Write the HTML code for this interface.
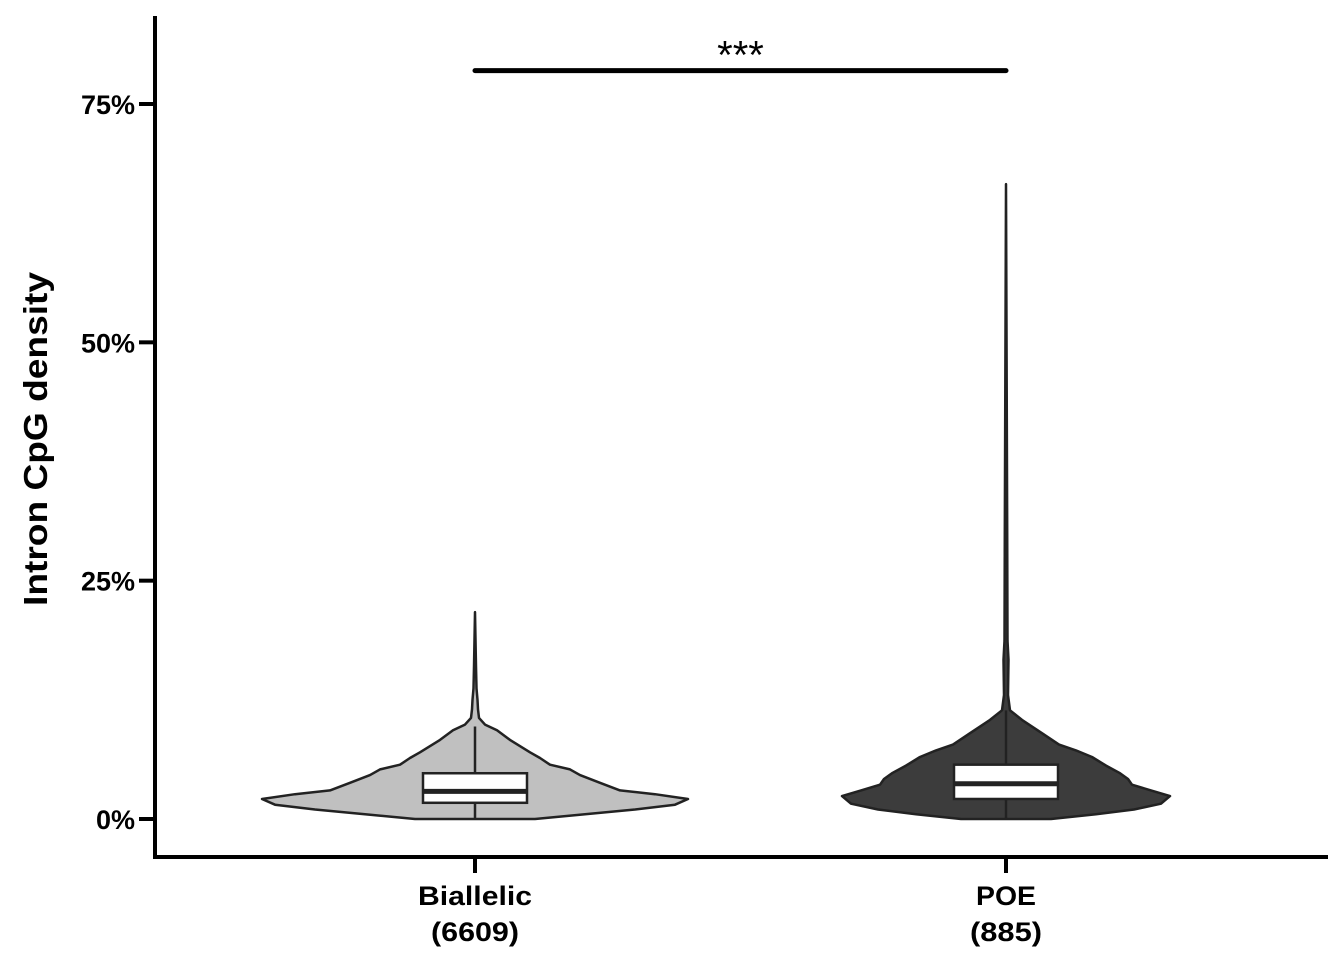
<!DOCTYPE html>
<html><head><meta charset="utf-8">
<style>
html,body{margin:0;padding:0;background:#fff;}
svg{display:block;font-family:"Liberation Sans",Arial,sans-serif;font-weight:bold;}
</style></head>
<body>
<svg id="chart" width="1344" height="960" viewBox="0 0 1344 960">
<g id="axes"></g>
<g id="marks"></g>
</svg>
<script>
const categories = ["Biallelic", "POE"];
const counts = ["(6609)", "(885)"];
const yTicks = [0, 25, 50, 75];
const yTickLabels = ["0%", "25%", "50%", "75%"];
const fills = ["#c0c0c0", "#3c3c3c"];
// violin profiles: y values (%) and half-widths
const violinY_biallelic = [0, 0.5, 1.0, 1.5, 2.1, 2.6, 3.0, 3.8, 4.6, 5.2, 5.7, 6.4, 7.0, 8.3, 9.3, 9.9, 10.6, 11.5, 12.5, 13.7, 16, 21.7];
const violinW_biallelic = [60, 110, 160, 200, 213, 180, 145, 125, 105, 95, 75, 65, 55, 35, 22, 10, 4, 3, 2.5, 1.5, 1, 0];
const violinY_poe = [0, 0.5, 1.0, 1.6, 2.4, 3.0, 3.6, 4.2, 4.8, 5.6, 6.5, 7.2, 7.8, 9.0, 10.4, 11.4, 13, 16.7, 18.7, 30, 66.6];
const violinW_poe = [45, 90, 128, 155, 164, 145, 126, 122, 114, 100, 86, 70, 53, 36, 16, 4, 2, 2.5, 1.5, 1.2, 0];
// box stats (%): whisker low, q1, median, q3, whisker high
const boxBiallelic = [0, 1.7, 2.9, 4.8, 9.7];
const boxPoe = [0, 2.1, 3.7, 5.7, 11.4];
const sigLabel = "***";
const sigLevel = 78.5;

const NS = "http://www.w3.org/2000/svg";
const y0 = 819, pxPer = (819 - 104) / 75;
const yScale = v => y0 - v * pxPer;
const xCenters = [475, 1006];
const xScale = i => xCenters[i];
const catLens = [114, 60];
const cntLens = [88, 72];

function mk(tag, attrs, parent) {
  const e = document.createElementNS(NS, tag);
  for (const k in attrs) e.setAttribute(k, attrs[k]);
  parent.appendChild(e);
  return e;
}
const axes = document.getElementById("axes");
const marks = document.getElementById("marks");

const yAxis = mk("line", {x1:155, y1:16, x2:155, y2:859, stroke:"#000", "stroke-width":4}, axes);


const xAxis = mk("line", {x1:153, y1:857, x2:1328, y2:857, stroke:"#000", "stroke-width":4}, axes);



yTicks.forEach((t, i) => {
  const y = yScale(t);
  const tk = mk("line", {x1:139, y1:y, x2:155, y2:y, stroke:"#000", "stroke-width":4}, axes);
  
  
  const lb = mk("text", {x:135, y:y + 10, "text-anchor":"end", "font-size":27, fill:"#000"}, axes);
  lb.textContent = yTickLabels[i];
  
  
});

categories.forEach((c, i) => {
  const x = xScale(i);
  const tk = mk("line", {x1:x, y1:857, x2:x, y2:873, stroke:"#000", "stroke-width":4}, axes);
  
  
  const lb = mk("text", {x:x, y:905, "text-anchor":"middle", "font-size":27, textLength:catLens[i], lengthAdjust:"spacingAndGlyphs", fill:"#000"}, axes);
  lb.textContent = c;
  
  
  const lb2 = mk("text", {x:x, y:941, "text-anchor":"middle", "font-size":27, textLength:cntLens[i], lengthAdjust:"spacingAndGlyphs", fill:"#000"}, axes);
  lb2.textContent = counts[i];
  
  
});

const yTitle = mk("text", {x:0, y:0, transform:"translate(47,439) rotate(-90)", "text-anchor":"middle", "font-size":33, textLength:334, lengthAdjust:"spacingAndGlyphs", fill:"#000"}, axes);
yTitle.textContent = "Intron CpG density";



function violin(i, ys, ws, box, fill) {
  const cx = xScale(i);
  const right = ys.map((v, k) => [cx + ws[k], yScale(v)]);
  const left = ys.map((v, k) => [cx - ws[k], yScale(v)]).reverse();
  const pts = right.concat(left);
  const d = "M" + pts.map(p => p[0].toFixed(1) + "," + p[1].toFixed(1)).join(" L") + "Z";
  const v = mk("path", {d:d, fill:fill, stroke:"#222", "stroke-width":2.5, "stroke-linejoin":"round"}, marks);
  
  
  const wh = mk("line", {x1:cx, y1:yScale(box[0]), x2:cx, y2:yScale(box[4]), stroke:"#222", "stroke-width":2.5}, marks);
  
  
  const bw = 52;
  const r = mk("rect", {x:cx - bw, y:yScale(box[3]), width:bw * 2, height:yScale(box[1]) - yScale(box[3]), fill:"#fff", stroke:"#222", "stroke-width":2.5}, marks);
  
  
  const m = mk("line", {x1:cx - bw, y1:yScale(box[2]), x2:cx + bw, y2:yScale(box[2]), stroke:"#222", "stroke-width":5}, marks);
  
  
}
violin(0, violinY_biallelic, violinW_biallelic, boxBiallelic, fills[0]);
violin(1, violinY_poe, violinW_poe, boxPoe, fills[1]);

const sb = mk("line", {x1:xScale(0), y1:yScale(sigLevel), x2:xScale(1), y2:yScale(sigLevel), stroke:"#000", "stroke-width":5, "stroke-linecap":"round"}, marks);


const st = mk("text", {x:(xScale(0) + xScale(1)) / 2, y:yScale(sigLevel) - 2, "text-anchor":"middle", "font-size":40, "font-weight":"normal", fill:"#000"}, marks);
st.textContent = sigLabel;


</script>
</body></html>
